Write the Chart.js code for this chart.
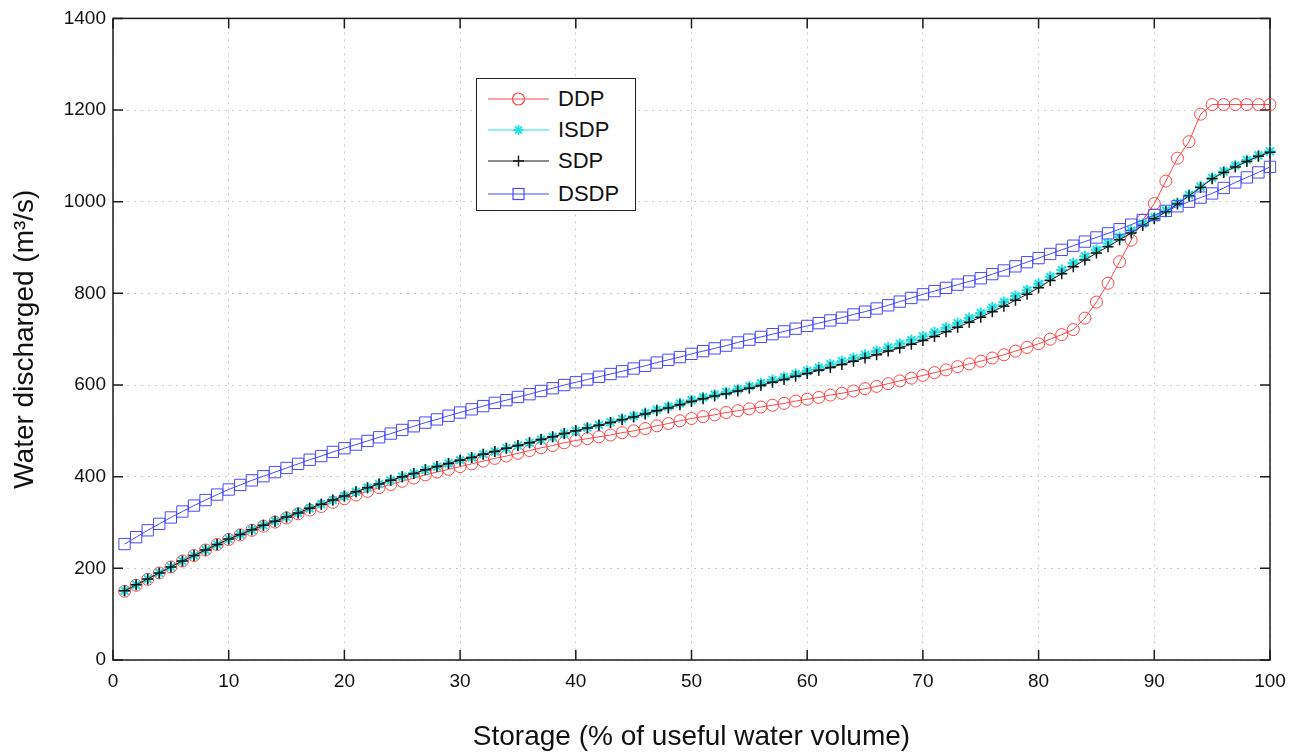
<!DOCTYPE html>
<html>
<head>
<meta charset="utf-8">
<script src="https://cdn.jsdelivr.net/npm/chart.js@4.4.1/dist/chart.umd.min.js"></script>
<style>
    html, body { margin: 0; padding: 0; background: #fff; }
    #contenedor { position: relative; width: 1299px; height: 755px; }
    #leyenda {
        position: absolute; left: 476px; top: 78px; width: 158px; height: 131px;
        border: 1.5px solid #222; background: #fff;
        font-family: 'Liberation Sans', Arial, sans-serif; font-size: 22px; color: #111;
    }
    .fila { position: absolute; left: 11px; height: 30px; display: flex; align-items: center; }
    .fila span { margin-left: 9px; }
</style>
</head>
<body>
<div id="contenedor">
    <canvas id="grafica" width="1299" height="755" style="width:1299px;height:755px"></canvas>
    <div id="leyenda"></div>
</div>
<script>
var ALMACENAMIENTO = [
    1, 2, 3, 4, 5, 6, 7, 8, 9, 10,
    11, 12, 13, 14, 15, 16, 17, 18, 19, 20,
    21, 22, 23, 24, 25, 26, 27, 28, 29, 30,
    31, 32, 33, 34, 35, 36, 37, 38, 39, 40,
    41, 42, 43, 44, 45, 46, 47, 48, 49, 50,
    51, 52, 53, 54, 55, 56, 57, 58, 59, 60,
    61, 62, 63, 64, 65, 66, 67, 68, 69, 70,
    71, 72, 73, 74, 75, 76, 77, 78, 79, 80,
    81, 82, 83, 84, 85, 86, 87, 88, 89, 90,
    91, 92, 93, 94, 95, 96, 97, 98, 99, 100
];

var DDP = [
    150, 163, 176, 190, 203, 216, 228, 240, 252, 263,
    273, 283, 292, 301, 310, 319, 327, 335, 344, 352,
    360, 368, 376, 383, 390, 397, 404, 410, 416, 422,
    428, 434, 440, 445, 451, 457, 463, 468, 474, 479,
    483, 487, 491, 496, 500, 505, 511, 516, 522, 527,
    531, 535, 540, 544, 548, 552, 556, 560, 565, 569,
    573, 578, 582, 587, 592, 597, 603, 609, 615, 621,
    627, 633, 640, 646, 652, 659, 666, 674, 682, 690,
    700, 710, 721, 746, 781, 822, 869, 916, 960, 996,
    1045, 1095, 1131, 1191, 1212, 1212, 1212, 1212, 1212, 1212
];

var ISDP = [
    151, 164, 177, 190, 203, 216, 228, 240, 252, 264,
    274, 284, 294, 303, 312, 321, 331, 340, 349, 358,
    367, 376, 384, 392, 400, 407, 415, 422, 429, 436,
    442, 449, 455, 462, 468, 474, 481, 487, 494, 500,
    507, 513, 519, 526, 532, 539, 546, 553, 560, 567,
    573, 579, 585, 591, 597, 604, 611, 617, 624, 631,
    638, 645, 652, 659, 666, 674, 682, 690, 698, 706,
    715, 725, 735, 746, 757, 769, 781, 794, 807, 821,
    836, 851, 866, 881, 895, 909, 923, 937, 952, 966,
    981, 997, 1015, 1033, 1052, 1066, 1079, 1091, 1101, 1110
];

var SDP = [
    151, 164, 177, 190, 203, 216, 228, 240, 252, 264,
    274, 284, 294, 303, 312, 321, 331, 340, 349, 358,
    367, 376, 384, 392, 400, 407, 415, 422, 429, 436,
    442, 449, 455, 462, 468, 474, 481, 487, 494, 500,
    506, 512, 518, 524, 530, 537, 544, 550, 557, 564,
    570, 576, 581, 587, 593, 599, 606, 612, 619, 625,
    632, 638, 645, 652, 659, 666, 674, 681, 689, 697,
    706, 716, 726, 737, 748, 760, 772, 785, 798, 812,
    828, 843, 858, 873, 888, 902, 917, 932, 948, 963,
    978, 995, 1013, 1031, 1050, 1064, 1076, 1088, 1099, 1108
];

var DSDP = [
    253, 268, 283, 297, 311, 324, 337, 349, 361, 372,
    382, 392, 401, 410, 419, 428, 437, 445, 454, 462,
    470, 478, 486, 494, 502, 510, 518, 525, 533, 540,
    547, 554, 561, 567, 574, 580, 587, 593, 600, 606,
    612, 618, 624, 630, 636, 642, 649, 655, 661, 668,
    674, 680, 686, 693, 699, 705, 711, 717, 723, 729,
    735, 741, 747, 754, 760, 767, 774, 782, 790, 798,
    805, 812, 819, 826, 833, 842, 850, 859, 868, 877,
    886, 895, 904, 913, 922, 931, 940, 950, 960, 971,
    980, 990, 1000, 1009, 1018, 1030, 1042, 1053, 1064, 1076
];

var NOMBRES = ['DDP', 'ISDP', 'SDP', 'DSDP'];
var X_MIN = 0, X_MAX = 100, X_PASO = 10;
var Y_MIN = 0, Y_MAX = 1400, Y_PASO = 200;

var FUENTE = "'Liberation Sans', Arial, Helvetica, sans-serif";
var LARGO_TICK = 10;

var ESTILOS = [
    {color: '#ff4545', punto: 'circle', radio: 6, ancho: 1, orden: 4},
    {color: '#1ee3e3', punto: 'star', radio: 5.5, ancho: 2, orden: 3},
    {color: '#151515', punto: 'cross', radio: 5.5, ancho: 1.5, orden: 2},
    {color: '#4848ff', punto: 'rect', radio: 8, ancho: 1, orden: 1}
];

function puntos(valores) {
    return valores.map(function (v, i) {
        return {x: ALMACENAMIENTO[i], y: v};
    });
}

var SERIES = [DDP, ISDP, SDP, DSDP];

var datasets = SERIES.map(function (serie, i) {
    var e = ESTILOS[i];
    return {
        label: NOMBRES[i],
        data: puntos(serie),
        borderColor: e.color,
        borderWidth: 1,
        pointStyle: e.punto,
        pointRadius: e.radio,
        pointBorderColor: e.color,
        pointBorderWidth: e.ancho,
        pointBackgroundColor: 'rgba(0,0,0,0)',
        tension: 0,
        clip: false,
        order: e.orden,
    };
});

// Marco tipo MATLAB: caja completa con marcas hacia adentro.
var marco = {
    id: 'marco',
    beforeDatasetsDraw: function (chart) {
        var a = chart.chartArea;
        var ctx = chart.ctx;
        var sx = chart.scales.x;
        var sy = chart.scales.y;

        ctx.save();
        ctx.strokeStyle = '#1c1c1c';
        ctx.lineWidth = 1.5;
        ctx.strokeRect(a.left, a.top, a.right - a.left, a.bottom - a.top);

        ctx.beginPath();
        sx.ticks.forEach(function (t) {
            var px = sx.getPixelForValue(t.value);
            ctx.moveTo(px, a.bottom);
            ctx.lineTo(px, a.bottom - LARGO_TICK);
            ctx.moveTo(px, a.top);
            ctx.lineTo(px, a.top + LARGO_TICK);
        });
        sy.ticks.forEach(function (t) {
            var py = sy.getPixelForValue(t.value);
            ctx.moveTo(a.left, py);
            ctx.lineTo(a.left + LARGO_TICK, py);
            ctx.moveTo(a.right, py);
            ctx.lineTo(a.right - LARGO_TICK, py);
        });
        ctx.stroke();
        ctx.restore();
    },
};

function sinComas(v) {
    return String(v);
}

Chart.defaults.font.family = FUENTE;
Chart.defaults.color = '#111';

new Chart(document.getElementById('grafica'), {
    type: 'line',
    data: {datasets: datasets},
    options: {
        responsive: false,
        animation: false,
        devicePixelRatio: 1,
        layout: {padding: {top: 15, right: 29, left: 0, bottom: 0}},
        plugins: {
            legend: {display: false},
            tooltip: {enabled: false},
        },
        scales: {
            x: {
                type: 'linear',
                min: X_MIN,
                max: X_MAX,
                ticks: {stepSize: X_PASO, padding: 10, color: '#111', font: {size: 19}, callback: sinComas},
                grid: {color: '#cacaca', lineWidth: 1, drawTicks: false},
                border: {display: false, dash: [2, 5]},
                title: {
                    display: true,
                    text: 'Storage (% of useful water volume)',
                    color: '#111',
                    font: {size: 28},
                    padding: {top: 0, bottom: 1},
                },
                afterFit: function (scale) {
                    scale.height = 95;
                },
            },
            y: {
                type: 'linear',
                min: Y_MIN,
                max: Y_MAX,
                ticks: {stepSize: Y_PASO, padding: 7, color: '#111', font: {size: 19}, callback: sinComas},
                grid: {color: '#cacaca', lineWidth: 1, drawTicks: false},
                border: {display: false, dash: [2, 5]},
                title: {
                    display: true,
                    text: 'Water discharged (m³/s)',
                    color: '#111',
                    font: {size: 28},
                    padding: {top: 8, bottom: 0},
                },
                afterFit: function (scale) {
                    scale.width = 113;
                },
            },
        },
    },
    plugins: [marco],
});

// Leyenda en HTML, dentro del área de la gráfica.
function marcador(e) {
    var c = e.color;
    var s = '<svg width="61" height="22" viewBox="0 0 61 22">';
    s += '<line x1="0" y1="11" x2="61" y2="11" stroke="' + c + '" stroke-width="1.2"/>';
    if (e.punto === 'circle') {
        s += '<circle cx="30.5" cy="11" r="6" fill="none" stroke="' + c + '" stroke-width="1.2"/>';
    } else if (e.punto === 'rect') {
        s += '<rect x="25" y="5.5" width="11" height="11" fill="none" stroke="' + c + '" stroke-width="1.2"/>';
    } else if (e.punto === 'cross') {
        s += '<path d="M30.5 5.5V16.5M25 11H36" stroke="' + c + '" stroke-width="1.4"/>';
    } else {
        s += '<path d="M30.5 6V16M25.5 11H35.5M27 7.5L34 14.5M34 7.5L27 14.5" stroke="' + c + '" stroke-width="1.8"/>';
    }
    return s + '</svg>';
}

var CENTROS_FILA = [20, 51, 82, 115];
var leyenda = document.getElementById('leyenda');
NOMBRES.forEach(function (n, i) {
    var fila = document.createElement('div');
    fila.className = 'fila';
    fila.style.top = (CENTROS_FILA[i] - 15) + 'px';
    fila.innerHTML = marcador(ESTILOS[i]) + '<span>' + n + '</span>';
    leyenda.appendChild(fila);
});
</script>
</body>
</html>
